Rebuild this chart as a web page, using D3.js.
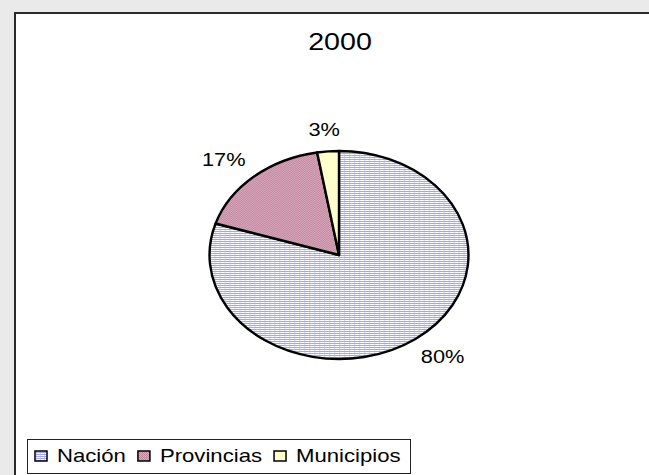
<!DOCTYPE html>
<html>
<head>
<meta charset="utf-8">
<script src="https://cdn.jsdelivr.net/npm/d3@7"></script>
<style>
  body { margin: 0; background: #eaeaea; }
  svg { display: block; font-family: "Liberation Sans", Arial, sans-serif; }
</style>
</head>
<body>
<div id="chart"></div>
<script>
var title = "2000";
var categories = ["Nación", "Provincias", "Municipios"];
var values = [79.9, 17.4, 2.7];
var fills = ["url(#pat-nacion)", "url(#pat-prov)", "#ffffcc"];

var width = 649, height = 475;
var sx = 1.245;               // the original chart is stretched sideways
var cx = 339, cy = 255, ry = 104, rx = ry * sx;

var svg = d3.select("#chart").append("svg")
    .attr("width", width)
    .attr("height", height);

// patterns
var defs = svg.append("defs");
var p1 = defs.append("pattern")
    .attr("id", "pat-nacion")
    .attr("patternUnits", "userSpaceOnUse")
    .attr("width", 4).attr("height", 2);
p1.append("rect").attr("width", 4).attr("height", 2).attr("fill", "#ffffff");
p1.append("rect").attr("width", 1).attr("height", 2).attr("fill", "#dadaff");
p1.append("rect").attr("width", 4).attr("height", 1).attr("fill", "#a4a4fb");

var p2 = defs.append("pattern")
    .attr("id", "pat-prov")
    .attr("patternUnits", "userSpaceOnUse")
    .attr("width", 2).attr("height", 2);
p2.append("rect").attr("width", 2).attr("height", 2).attr("fill", "#d6a8bb");
p2.append("rect").attr("width", 1).attr("height", 1).attr("fill", "#c288a0");
p2.append("rect").attr("x", 1).attr("y", 1).attr("width", 1).attr("height", 1).attr("fill", "#c288a0");

// chart area
svg.append("rect")
    .attr("x", 15).attr("y", 13)
    .attr("width", 700).attr("height", 520)
    .attr("fill", "#fff")
    .attr("stroke", "#2a2a2a")
    .attr("stroke-width", 2);

svg.append("text")
    .attr("transform", "translate(340,50) scale(" + sx + ",1)")
    .attr("text-anchor", "middle")
    .style("font-size", "23px")
    .attr("fill", "#000")
    .text(title);

// pie
var pie = d3.pie().sort(null).value(function (d) { return d; });
var arcs = pie(values);
var arc = d3.arc().innerRadius(0).outerRadius(ry);

var g = svg.append("g")
    .attr("transform", "translate(" + cx + "," + cy + ") scale(" + sx + ",1)");

g.selectAll("path.slice")
    .data(arcs)
    .enter().append("path")
    .attr("class", "slice")
    .attr("d", arc)
    .attr("fill", function (d, i) { return fills[i]; })
    .attr("stroke", "#000")
    .attr("stroke-width", 2.4)
    .attr("stroke-linejoin", "round")
    .attr("vector-effect", "non-scaling-stroke");

var fmt = d3.format(".0%");
var total = d3.sum(values);

svg.selectAll("text.pct")
    .data(arcs)
    .enter().append("text")
    .attr("class", "pct")
    .attr("transform", function (d) {
      var a = (d.startAngle + d.endAngle) / 2;
      var x = cx + (rx + 46) * Math.sin(a);
      var y = cy - (ry + 22) * Math.cos(a);
      return "translate(" + x + "," + y + ") scale(" + sx + ",1)";
    })
    .attr("text-anchor", "middle")
    .attr("dy", "0.36em")
    .style("font-size", "17.5px")
    .text(function (d) { return fmt(d.value / total); });

// legend
var legend = svg.append("g");
legend.append("rect")
    .attr("x", 27.5).attr("y", 439.5)
    .attr("width", 383).attr("height", 34)
    .attr("fill", "#fff")
    .attr("stroke", "#222")
    .attr("stroke-width", 1);

var lx = 35;
categories.forEach(function (c, i) {
  legend.append("rect")
      .attr("x", lx).attr("y", 451)
      .attr("width", 12).attr("height", 10)
      .attr("fill", fills[i])
      .attr("stroke", "#000")
      .attr("stroke-width", 1.5);
  var t = legend.append("text")
      .attr("transform", "translate(" + (lx + 22) + ",462) scale(" + sx + ",1)")
      .style("font-size", "17.8px")
      .text(c);
  lx = lx + 22 + t.node().getComputedTextLength() * sx + 12;
});
</script>
</body>
</html>
